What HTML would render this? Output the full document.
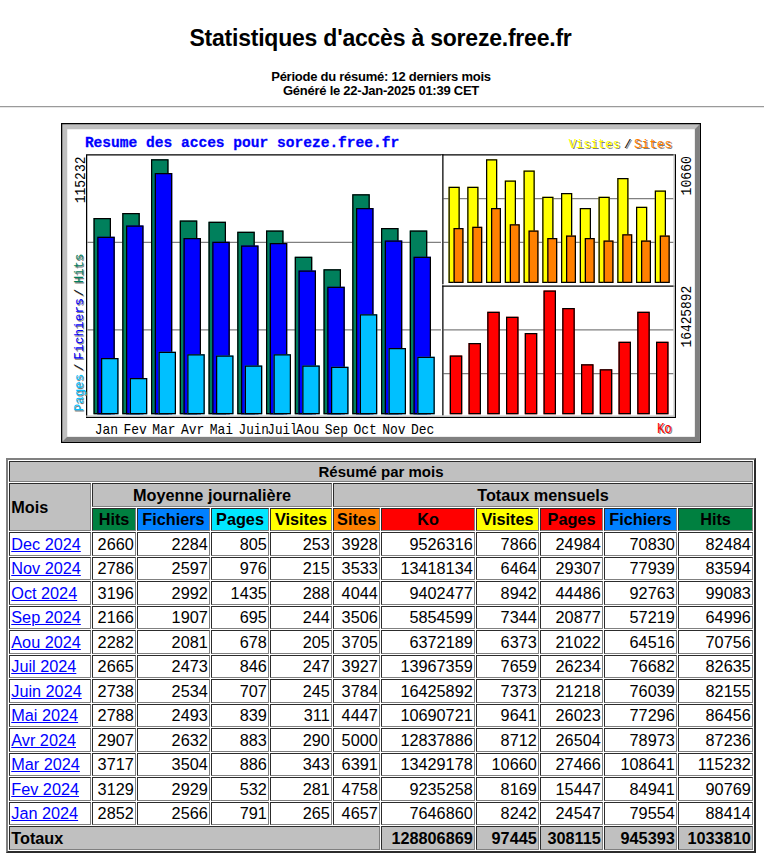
<!DOCTYPE html>
<html><head><meta charset="utf-8"><title>Statistiques</title>
<style>
html,body{margin:0;padding:0;background:#fff;width:764px;height:862px;overflow:hidden;position:relative}
body{font-family:"Liberation Sans",sans-serif;color:#000}
#title{position:absolute;left:0;top:0;width:764px;text-align:center;font-weight:bold;font-size:23px;letter-spacing:-0.22px;line-height:26px}
#sub{position:absolute;left:0;width:764px;text-align:center;font-weight:bold;font-size:13px;letter-spacing:-0.25px;line-height:14px}
.hr{position:absolute;left:0;width:764px;height:1px}
#tb{position:absolute;left:6px;top:458px;width:750px;height:395px;box-sizing:border-box;border:2px solid;border-color:#808080 #2c2c2c #2c2c2c #808080}
.c{position:absolute;box-sizing:border-box;border:1px solid;border-color:#2c2c2c #808080 #808080 #2c2c2c;white-space:nowrap;overflow:hidden}
</style></head><body>
<div id="title" style="top:25px;left:-1.5px">Statistiques d'accès à soreze.free.fr</div>
<div id="sub" style="top:70px;left:-1px">Période du résumé: 12 derniers mois<br>Généré le 22-Jan-2025 01:39 CET</div>
<div class="hr" style="top:106px;background:#9a9a9a"></div>
<div class="hr" style="top:107px;background:#e6e6e6"></div>
<svg width="640" height="320" viewBox="0 0 512 256" style="position:absolute;left:61px;top:123px"><rect x="0" y="0" width="512" height="256" fill="#fff"/><rect x="0" y="0" width="512" height="256" fill="#000"/><rect x="1" y="1" width="510" height="254" fill="#c0c0c0"/><polygon points="511,1 511,255 1,255 5,251 507,251 507,5" fill="#808080"/><rect x="5" y="5" width="502" height="246" fill="#fff"/><rect x="20.5" y="25.5" width="471" height="210" fill="none" stroke="#000" stroke-width="1"/><rect x="21" y="95" width="283" height="1" fill="#808080"/><rect x="21" y="165" width="283" height="1" fill="#808080"/><rect x="306" y="60" width="184" height="1" fill="#808080"/><rect x="306" y="95" width="184" height="1" fill="#808080"/><rect x="306" y="165" width="184" height="1" fill="#808080"/><rect x="306" y="200" width="184" height="1" fill="#808080"/><rect x="304" y="26" width="1" height="208" fill="#fff"/><rect x="305" y="25" width="1" height="209" fill="#000"/><rect x="305" y="129" width="186" height="1" fill="#fff"/><rect x="305" y="130" width="187" height="1" fill="#000"/><rect x="490" y="25" width="1" height="210" fill="#c0c0c0"/><rect x="20" y="234" width="471" height="1" fill="#c0c0c0"/><rect x="26" y="76" width="14" height="157" fill="#00805c"/><rect x="26.5" y="76.5" width="13" height="156" fill="none" stroke="#000" stroke-width="1"/><rect x="49" y="72" width="14" height="161" fill="#00805c"/><rect x="49.5" y="72.5" width="13" height="160" fill="none" stroke="#000" stroke-width="1"/><rect x="72" y="29" width="14" height="204" fill="#00805c"/><rect x="72.5" y="29.5" width="13" height="203" fill="none" stroke="#000" stroke-width="1"/><rect x="95" y="78" width="14" height="155" fill="#00805c"/><rect x="95.5" y="78.5" width="13" height="154" fill="none" stroke="#000" stroke-width="1"/><rect x="118" y="79" width="14" height="154" fill="#00805c"/><rect x="118.5" y="79.5" width="13" height="153" fill="none" stroke="#000" stroke-width="1"/><rect x="141" y="87" width="14" height="146" fill="#00805c"/><rect x="141.5" y="87.5" width="13" height="145" fill="none" stroke="#000" stroke-width="1"/><rect x="164" y="86" width="14" height="147" fill="#00805c"/><rect x="164.5" y="86.5" width="13" height="146" fill="none" stroke="#000" stroke-width="1"/><rect x="187" y="107" width="14" height="126" fill="#00805c"/><rect x="187.5" y="107.5" width="13" height="125" fill="none" stroke="#000" stroke-width="1"/><rect x="210" y="117" width="14" height="116" fill="#00805c"/><rect x="210.5" y="117.5" width="13" height="115" fill="none" stroke="#000" stroke-width="1"/><rect x="233" y="57" width="14" height="176" fill="#00805c"/><rect x="233.5" y="57.5" width="13" height="175" fill="none" stroke="#000" stroke-width="1"/><rect x="256" y="84" width="14" height="149" fill="#00805c"/><rect x="256.5" y="84.5" width="13" height="148" fill="none" stroke="#000" stroke-width="1"/><rect x="279" y="86" width="14" height="147" fill="#00805c"/><rect x="279.5" y="86.5" width="13" height="146" fill="none" stroke="#000" stroke-width="1"/><rect x="29" y="91" width="14" height="142" fill="#0000ff"/><rect x="29.5" y="91.5" width="13" height="141" fill="none" stroke="#000" stroke-width="1"/><rect x="52" y="82" width="14" height="151" fill="#0000ff"/><rect x="52.5" y="82.5" width="13" height="150" fill="none" stroke="#000" stroke-width="1"/><rect x="75" y="40" width="14" height="193" fill="#0000ff"/><rect x="75.5" y="40.5" width="13" height="192" fill="none" stroke="#000" stroke-width="1"/><rect x="98" y="92" width="14" height="141" fill="#0000ff"/><rect x="98.5" y="92.5" width="13" height="140" fill="none" stroke="#000" stroke-width="1"/><rect x="121" y="95" width="14" height="138" fill="#0000ff"/><rect x="121.5" y="95.5" width="13" height="137" fill="none" stroke="#000" stroke-width="1"/><rect x="144" y="98" width="14" height="135" fill="#0000ff"/><rect x="144.5" y="98.5" width="13" height="134" fill="none" stroke="#000" stroke-width="1"/><rect x="167" y="96" width="14" height="137" fill="#0000ff"/><rect x="167.5" y="96.5" width="13" height="136" fill="none" stroke="#000" stroke-width="1"/><rect x="190" y="118" width="14" height="115" fill="#0000ff"/><rect x="190.5" y="118.5" width="13" height="114" fill="none" stroke="#000" stroke-width="1"/><rect x="213" y="131" width="14" height="102" fill="#0000ff"/><rect x="213.5" y="131.5" width="13" height="101" fill="none" stroke="#000" stroke-width="1"/><rect x="236" y="68" width="14" height="165" fill="#0000ff"/><rect x="236.5" y="68.5" width="13" height="164" fill="none" stroke="#000" stroke-width="1"/><rect x="259" y="94" width="14" height="139" fill="#0000ff"/><rect x="259.5" y="94.5" width="13" height="138" fill="none" stroke="#000" stroke-width="1"/><rect x="282" y="107" width="14" height="126" fill="#0000ff"/><rect x="282.5" y="107.5" width="13" height="125" fill="none" stroke="#000" stroke-width="1"/><rect x="32" y="188" width="14" height="45" fill="#00c0ff"/><rect x="32.5" y="188.5" width="13" height="44" fill="none" stroke="#000" stroke-width="1"/><rect x="55" y="204" width="14" height="29" fill="#00c0ff"/><rect x="55.5" y="204.5" width="13" height="28" fill="none" stroke="#000" stroke-width="1"/><rect x="78" y="183" width="14" height="50" fill="#00c0ff"/><rect x="78.5" y="183.5" width="13" height="49" fill="none" stroke="#000" stroke-width="1"/><rect x="101" y="185" width="14" height="48" fill="#00c0ff"/><rect x="101.5" y="185.5" width="13" height="47" fill="none" stroke="#000" stroke-width="1"/><rect x="124" y="186" width="14" height="47" fill="#00c0ff"/><rect x="124.5" y="186.5" width="13" height="46" fill="none" stroke="#000" stroke-width="1"/><rect x="147" y="194" width="14" height="39" fill="#00c0ff"/><rect x="147.5" y="194.5" width="13" height="38" fill="none" stroke="#000" stroke-width="1"/><rect x="170" y="185" width="14" height="48" fill="#00c0ff"/><rect x="170.5" y="185.5" width="13" height="47" fill="none" stroke="#000" stroke-width="1"/><rect x="193" y="194" width="14" height="39" fill="#00c0ff"/><rect x="193.5" y="194.5" width="13" height="38" fill="none" stroke="#000" stroke-width="1"/><rect x="216" y="195" width="14" height="38" fill="#00c0ff"/><rect x="216.5" y="195.5" width="13" height="37" fill="none" stroke="#000" stroke-width="1"/><rect x="239" y="153" width="14" height="80" fill="#00c0ff"/><rect x="239.5" y="153.5" width="13" height="79" fill="none" stroke="#000" stroke-width="1"/><rect x="262" y="180" width="14" height="53" fill="#00c0ff"/><rect x="262.5" y="180.5" width="13" height="52" fill="none" stroke="#000" stroke-width="1"/><rect x="285" y="187" width="14" height="46" fill="#00c0ff"/><rect x="285.5" y="187.5" width="13" height="45" fill="none" stroke="#000" stroke-width="1"/><rect x="310" y="51" width="9" height="77" fill="#ffff00"/><rect x="310.5" y="51.5" width="8" height="76" fill="none" stroke="#000" stroke-width="1"/><rect x="325" y="51" width="9" height="77" fill="#ffff00"/><rect x="325.5" y="51.5" width="8" height="76" fill="none" stroke="#000" stroke-width="1"/><rect x="340" y="29" width="9" height="99" fill="#ffff00"/><rect x="340.5" y="29.5" width="8" height="98" fill="none" stroke="#000" stroke-width="1"/><rect x="355" y="46" width="9" height="82" fill="#ffff00"/><rect x="355.5" y="46.5" width="8" height="81" fill="none" stroke="#000" stroke-width="1"/><rect x="370" y="38" width="9" height="90" fill="#ffff00"/><rect x="370.5" y="38.5" width="8" height="89" fill="none" stroke="#000" stroke-width="1"/><rect x="385" y="59" width="9" height="69" fill="#ffff00"/><rect x="385.5" y="59.5" width="8" height="68" fill="none" stroke="#000" stroke-width="1"/><rect x="400" y="56" width="9" height="72" fill="#ffff00"/><rect x="400.5" y="56.5" width="8" height="71" fill="none" stroke="#000" stroke-width="1"/><rect x="415" y="68" width="9" height="60" fill="#ffff00"/><rect x="415.5" y="68.5" width="8" height="59" fill="none" stroke="#000" stroke-width="1"/><rect x="430" y="59" width="9" height="69" fill="#ffff00"/><rect x="430.5" y="59.5" width="8" height="68" fill="none" stroke="#000" stroke-width="1"/><rect x="445" y="44" width="9" height="84" fill="#ffff00"/><rect x="445.5" y="44.5" width="8" height="83" fill="none" stroke="#000" stroke-width="1"/><rect x="460" y="67" width="9" height="61" fill="#ffff00"/><rect x="460.5" y="67.5" width="8" height="60" fill="none" stroke="#000" stroke-width="1"/><rect x="475" y="54" width="9" height="74" fill="#ffff00"/><rect x="475.5" y="54.5" width="8" height="73" fill="none" stroke="#000" stroke-width="1"/><rect x="314" y="84" width="8" height="44" fill="#ff8000"/><rect x="314.5" y="84.5" width="7" height="43" fill="none" stroke="#000" stroke-width="1"/><rect x="329" y="83" width="8" height="45" fill="#ff8000"/><rect x="329.5" y="83.5" width="7" height="44" fill="none" stroke="#000" stroke-width="1"/><rect x="344" y="68" width="8" height="60" fill="#ff8000"/><rect x="344.5" y="68.5" width="7" height="59" fill="none" stroke="#000" stroke-width="1"/><rect x="359" y="81" width="8" height="47" fill="#ff8000"/><rect x="359.5" y="81.5" width="7" height="46" fill="none" stroke="#000" stroke-width="1"/><rect x="374" y="86" width="8" height="42" fill="#ff8000"/><rect x="374.5" y="86.5" width="7" height="41" fill="none" stroke="#000" stroke-width="1"/><rect x="389" y="92" width="8" height="36" fill="#ff8000"/><rect x="389.5" y="92.5" width="7" height="35" fill="none" stroke="#000" stroke-width="1"/><rect x="404" y="90" width="8" height="38" fill="#ff8000"/><rect x="404.5" y="90.5" width="7" height="37" fill="none" stroke="#000" stroke-width="1"/><rect x="419" y="92" width="8" height="36" fill="#ff8000"/><rect x="419.5" y="92.5" width="7" height="35" fill="none" stroke="#000" stroke-width="1"/><rect x="434" y="94" width="8" height="34" fill="#ff8000"/><rect x="434.5" y="94.5" width="7" height="33" fill="none" stroke="#000" stroke-width="1"/><rect x="449" y="89" width="8" height="39" fill="#ff8000"/><rect x="449.5" y="89.5" width="7" height="38" fill="none" stroke="#000" stroke-width="1"/><rect x="464" y="94" width="8" height="34" fill="#ff8000"/><rect x="464.5" y="94.5" width="7" height="33" fill="none" stroke="#000" stroke-width="1"/><rect x="479" y="90" width="8" height="38" fill="#ff8000"/><rect x="479.5" y="90.5" width="7" height="37" fill="none" stroke="#000" stroke-width="1"/><rect x="311" y="186" width="10" height="47" fill="#ff0000"/><rect x="311.5" y="186.5" width="9" height="46" fill="none" stroke="#000" stroke-width="1"/><rect x="326" y="176" width="10" height="57" fill="#ff0000"/><rect x="326.5" y="176.5" width="9" height="56" fill="none" stroke="#000" stroke-width="1"/><rect x="341" y="151" width="10" height="82" fill="#ff0000"/><rect x="341.5" y="151.5" width="9" height="81" fill="none" stroke="#000" stroke-width="1"/><rect x="356" y="155" width="10" height="78" fill="#ff0000"/><rect x="356.5" y="155.5" width="9" height="77" fill="none" stroke="#000" stroke-width="1"/><rect x="371" y="168" width="10" height="65" fill="#ff0000"/><rect x="371.5" y="168.5" width="9" height="64" fill="none" stroke="#000" stroke-width="1"/><rect x="386" y="134" width="10" height="99" fill="#ff0000"/><rect x="386.5" y="134.5" width="9" height="98" fill="none" stroke="#000" stroke-width="1"/><rect x="401" y="148" width="10" height="85" fill="#ff0000"/><rect x="401.5" y="148.5" width="9" height="84" fill="none" stroke="#000" stroke-width="1"/><rect x="416" y="193" width="10" height="40" fill="#ff0000"/><rect x="416.5" y="193.5" width="9" height="39" fill="none" stroke="#000" stroke-width="1"/><rect x="431" y="197" width="10" height="36" fill="#ff0000"/><rect x="431.5" y="197.5" width="9" height="35" fill="none" stroke="#000" stroke-width="1"/><rect x="446" y="175" width="10" height="58" fill="#ff0000"/><rect x="446.5" y="175.5" width="9" height="57" fill="none" stroke="#000" stroke-width="1"/><rect x="461" y="151" width="10" height="82" fill="#ff0000"/><rect x="461.5" y="151.5" width="9" height="81" fill="none" stroke="#000" stroke-width="1"/><rect x="476" y="175" width="10" height="58" fill="#ff0000"/><rect x="476.5" y="175.5" width="9" height="57" fill="none" stroke="#000" stroke-width="1"/><text stroke="#0000ff" stroke-width="0.22" x="19.1" y="19.3" style="font-family:'Liberation Mono',monospace;font-size:12px;font-weight:bold" fill="#0000ff" textLength="251.5" lengthAdjust="spacingAndGlyphs">Resume des acces pour soreze.free.fr</text><text x="27.04" y="248.8" style="font-family:'Liberation Mono',monospace;font-size:12px;font-weight:normal" fill="#000" textLength="18.69" lengthAdjust="spacingAndGlyphs">Jan</text><text x="50.04" y="248.8" style="font-family:'Liberation Mono',monospace;font-size:12px;font-weight:normal" fill="#000" textLength="18.69" lengthAdjust="spacingAndGlyphs">Fev</text><text x="73.03999999999999" y="248.8" style="font-family:'Liberation Mono',monospace;font-size:12px;font-weight:normal" fill="#000" textLength="18.69" lengthAdjust="spacingAndGlyphs">Mar</text><text x="96.03999999999999" y="248.8" style="font-family:'Liberation Mono',monospace;font-size:12px;font-weight:normal" fill="#000" textLength="18.69" lengthAdjust="spacingAndGlyphs">Avr</text><text x="119.03999999999999" y="248.8" style="font-family:'Liberation Mono',monospace;font-size:12px;font-weight:normal" fill="#000" textLength="18.69" lengthAdjust="spacingAndGlyphs">Mai</text><text x="142.04" y="248.8" style="font-family:'Liberation Mono',monospace;font-size:12px;font-weight:normal" fill="#000" textLength="24.32" lengthAdjust="spacingAndGlyphs">Juin</text><text x="165.04" y="248.8" style="font-family:'Liberation Mono',monospace;font-size:12px;font-weight:normal" fill="#000" textLength="24.32" lengthAdjust="spacingAndGlyphs">Juil</text><text x="188.04" y="248.8" style="font-family:'Liberation Mono',monospace;font-size:12px;font-weight:normal" fill="#000" textLength="18.69" lengthAdjust="spacingAndGlyphs">Aou</text><text x="211.04" y="248.8" style="font-family:'Liberation Mono',monospace;font-size:12px;font-weight:normal" fill="#000" textLength="18.69" lengthAdjust="spacingAndGlyphs">Sep</text><text x="234.04" y="248.8" style="font-family:'Liberation Mono',monospace;font-size:12px;font-weight:normal" fill="#000" textLength="18.69" lengthAdjust="spacingAndGlyphs">Oct</text><text x="257.04" y="248.8" style="font-family:'Liberation Mono',monospace;font-size:12px;font-weight:normal" fill="#000" textLength="18.69" lengthAdjust="spacingAndGlyphs">Nov</text><text x="280.04" y="248.8" style="font-family:'Liberation Mono',monospace;font-size:12px;font-weight:normal" fill="#000" textLength="18.69" lengthAdjust="spacingAndGlyphs">Dec</text><text transform="translate(19.2,64.2) rotate(-90)" style="font-family:'Liberation Mono',monospace;font-size:12.3px;font-weight:normal" fill="#000" textLength="37.4" lengthAdjust="spacingAndGlyphs">115232</text><text transform="translate(503.8,58) rotate(-90)" style="font-family:'Liberation Mono',monospace;font-size:12.3px;font-weight:normal" fill="#000" textLength="31.6" lengthAdjust="spacingAndGlyphs">10660</text><text transform="translate(503.8,179.6) rotate(-90)" style="font-family:'Liberation Mono',monospace;font-size:12.3px;font-weight:normal" fill="#000" textLength="49.4" lengthAdjust="spacingAndGlyphs">16425892</text><text x="477.7" y="249" style="font-family:'Liberation Mono',monospace;font-size:12px;font-weight:normal" fill="#808080" textLength="12" lengthAdjust="spacingAndGlyphs">Ko</text><text x="476.7" y="248" style="font-family:'Liberation Mono',monospace;font-size:12px;font-weight:normal" fill="#ff0000" textLength="12" lengthAdjust="spacingAndGlyphs">Ko</text><text x="407.2" y="21" style="font-family:'Liberation Mono',monospace;font-size:10.8px;font-weight:normal" fill="#808080" textLength="41" lengthAdjust="spacingAndGlyphs">Visites</text><text x="406.2" y="20" style="font-family:'Liberation Mono',monospace;font-size:10.8px;font-weight:normal" fill="#ffff00" textLength="41" lengthAdjust="spacingAndGlyphs">Visites</text><text x="451.4" y="21" style="font-family:'Liberation Mono',monospace;font-size:10.8px;font-weight:normal" fill="#808080" textLength="6" lengthAdjust="spacingAndGlyphs">/</text><text x="450.4" y="20" style="font-family:'Liberation Mono',monospace;font-size:10.8px;font-weight:normal" fill="#000" textLength="6" lengthAdjust="spacingAndGlyphs">/</text><text x="459.4" y="21" style="font-family:'Liberation Mono',monospace;font-size:10.8px;font-weight:normal" fill="#808080" textLength="30.5" lengthAdjust="spacingAndGlyphs">Sites</text><text x="458.4" y="20" style="font-family:'Liberation Mono',monospace;font-size:10.8px;font-weight:normal" fill="#ff8000" textLength="30.5" lengthAdjust="spacingAndGlyphs">Sites</text><text transform="translate(18.6,231.6) rotate(-90)" style="font-family:'Liberation Mono',monospace;font-size:10.5px;font-weight:normal" fill="#808080" textLength="30.1" lengthAdjust="spacingAndGlyphs">Pages</text><text transform="translate(17.6,230.6) rotate(-90)" style="font-family:'Liberation Mono',monospace;font-size:10.5px;font-weight:normal" fill="#00c0ff" textLength="30.1" lengthAdjust="spacingAndGlyphs">Pages</text><text transform="translate(18.6,199.3) rotate(-90)" style="font-family:'Liberation Mono',monospace;font-size:10.5px;font-weight:normal" fill="#808080" textLength="6" lengthAdjust="spacingAndGlyphs">/</text><text transform="translate(17.6,198.3) rotate(-90)" style="font-family:'Liberation Mono',monospace;font-size:10.5px;font-weight:normal" fill="#000" textLength="6" lengthAdjust="spacingAndGlyphs">/</text><text transform="translate(18.6,190.4) rotate(-90)" style="font-family:'Liberation Mono',monospace;font-size:10.5px;font-weight:normal" fill="#808080" textLength="49.4" lengthAdjust="spacingAndGlyphs">Fichiers</text><text transform="translate(17.6,189.4) rotate(-90)" style="font-family:'Liberation Mono',monospace;font-size:10.5px;font-weight:normal" fill="#0000ff" textLength="49.4" lengthAdjust="spacingAndGlyphs">Fichiers</text><text transform="translate(18.6,139.6) rotate(-90)" style="font-family:'Liberation Mono',monospace;font-size:10.5px;font-weight:normal" fill="#808080" textLength="6" lengthAdjust="spacingAndGlyphs">/</text><text transform="translate(17.6,138.6) rotate(-90)" style="font-family:'Liberation Mono',monospace;font-size:10.5px;font-weight:normal" fill="#000" textLength="6" lengthAdjust="spacingAndGlyphs">/</text><text transform="translate(18.6,129.2) rotate(-90)" style="font-family:'Liberation Mono',monospace;font-size:10.5px;font-weight:normal" fill="#808080" textLength="23.8" lengthAdjust="spacingAndGlyphs">Hits</text><text transform="translate(17.6,128.2) rotate(-90)" style="font-family:'Liberation Mono',monospace;font-size:10.5px;font-weight:normal" fill="#00805c" textLength="23.8" lengthAdjust="spacingAndGlyphs">Hits</text></svg>
<div id="tb"></div><div class="c" style="left:9px;top:461px;width:744px;height:21px;line-height:19px;background:#c0c0c0;text-align:center;font-size:15px;font-weight:bold;padding:0 1.25px;">Résumé par mois</div><div class="c" style="left:9px;top:483px;width:82px;height:48px;line-height:46px;background:#c0c0c0;text-align:left;font-size:16.25px;font-weight:bold;padding:0 1.25px;">Mois</div><div class="c" style="left:92px;top:483px;width:240px;height:24px;line-height:22px;background:#c0c0c0;text-align:center;font-size:16.25px;font-weight:bold;padding:0 1.25px;">Moyenne journalière</div><div class="c" style="left:333px;top:483px;width:420px;height:24px;line-height:22px;background:#c0c0c0;text-align:center;font-size:16.25px;font-weight:bold;padding:0 1.25px;">Totaux mensuels</div><div class="c" style="left:92px;top:508px;width:44px;height:23px;line-height:21px;background:#008040;text-align:center;font-size:16.25px;font-weight:bold;padding:0 1.25px;">Hits</div><div class="c" style="left:137px;top:508px;width:73px;height:23px;line-height:21px;background:#0080ff;text-align:center;font-size:16.25px;font-weight:bold;padding:0 1.25px;">Fichiers</div><div class="c" style="left:211px;top:508px;width:58px;height:23px;line-height:21px;background:#00e8ff;text-align:center;font-size:16.25px;font-weight:bold;padding:0 1.25px;">Pages</div><div class="c" style="left:270px;top:508px;width:62px;height:23px;line-height:21px;background:#ffff00;text-align:center;font-size:16.25px;font-weight:bold;padding:0 1.25px;">Visites</div><div class="c" style="left:333px;top:508px;width:47px;height:23px;line-height:21px;background:#ff8000;text-align:center;font-size:16.25px;font-weight:bold;padding:0 1.25px;">Sites</div><div class="c" style="left:381px;top:508px;width:94px;height:23px;line-height:21px;background:#ff0000;text-align:center;font-size:16.25px;font-weight:bold;padding:0 1.25px;">Ko</div><div class="c" style="left:476px;top:508px;width:63px;height:23px;line-height:21px;background:#ffff00;text-align:center;font-size:16.25px;font-weight:bold;padding:0 1.25px;">Visites</div><div class="c" style="left:540px;top:508px;width:63px;height:23px;line-height:21px;background:#ff0000;text-align:center;font-size:16.25px;font-weight:bold;padding:0 1.25px;">Pages</div><div class="c" style="left:604px;top:508px;width:73px;height:23px;line-height:21px;background:#0080ff;text-align:center;font-size:16.25px;font-weight:bold;padding:0 1.25px;">Fichiers</div><div class="c" style="left:678px;top:508px;width:75px;height:23px;line-height:21px;background:#008040;text-align:center;font-size:16.25px;font-weight:bold;padding:0 1.25px;">Hits</div><div class="c" style="left:9px;top:532px;width:82px;height:24px;line-height:22px;background:#fff;text-align:left;font-size:16.25px;font-weight:normal;padding:0 1.25px;"><a href="#" style="color:#0000ff">Dec 2024</a></div><div class="c" style="left:92px;top:532px;width:44px;height:24px;line-height:22px;background:#fff;text-align:right;font-size:16.25px;font-weight:normal;padding:0 1.25px;">2660</div><div class="c" style="left:137px;top:532px;width:73px;height:24px;line-height:22px;background:#fff;text-align:right;font-size:16.25px;font-weight:normal;padding:0 1.25px;">2284</div><div class="c" style="left:211px;top:532px;width:58px;height:24px;line-height:22px;background:#fff;text-align:right;font-size:16.25px;font-weight:normal;padding:0 1.25px;">805</div><div class="c" style="left:270px;top:532px;width:62px;height:24px;line-height:22px;background:#fff;text-align:right;font-size:16.25px;font-weight:normal;padding:0 1.25px;">253</div><div class="c" style="left:333px;top:532px;width:47px;height:24px;line-height:22px;background:#fff;text-align:right;font-size:16.25px;font-weight:normal;padding:0 1.25px;">3928</div><div class="c" style="left:381px;top:532px;width:94px;height:24px;line-height:22px;background:#fff;text-align:right;font-size:16.25px;font-weight:normal;padding:0 1.25px;">9526316</div><div class="c" style="left:476px;top:532px;width:63px;height:24px;line-height:22px;background:#fff;text-align:right;font-size:16.25px;font-weight:normal;padding:0 1.25px;">7866</div><div class="c" style="left:540px;top:532px;width:63px;height:24px;line-height:22px;background:#fff;text-align:right;font-size:16.25px;font-weight:normal;padding:0 1.25px;">24984</div><div class="c" style="left:604px;top:532px;width:73px;height:24px;line-height:22px;background:#fff;text-align:right;font-size:16.25px;font-weight:normal;padding:0 1.25px;">70830</div><div class="c" style="left:678px;top:532px;width:75px;height:24px;line-height:22px;background:#fff;text-align:right;font-size:16.25px;font-weight:normal;padding:0 1.25px;">82484</div><div class="c" style="left:9px;top:557px;width:82px;height:23px;line-height:21px;background:#fff;text-align:left;font-size:16.25px;font-weight:normal;padding:0 1.25px;"><a href="#" style="color:#0000ff">Nov 2024</a></div><div class="c" style="left:92px;top:557px;width:44px;height:23px;line-height:21px;background:#fff;text-align:right;font-size:16.25px;font-weight:normal;padding:0 1.25px;">2786</div><div class="c" style="left:137px;top:557px;width:73px;height:23px;line-height:21px;background:#fff;text-align:right;font-size:16.25px;font-weight:normal;padding:0 1.25px;">2597</div><div class="c" style="left:211px;top:557px;width:58px;height:23px;line-height:21px;background:#fff;text-align:right;font-size:16.25px;font-weight:normal;padding:0 1.25px;">976</div><div class="c" style="left:270px;top:557px;width:62px;height:23px;line-height:21px;background:#fff;text-align:right;font-size:16.25px;font-weight:normal;padding:0 1.25px;">215</div><div class="c" style="left:333px;top:557px;width:47px;height:23px;line-height:21px;background:#fff;text-align:right;font-size:16.25px;font-weight:normal;padding:0 1.25px;">3533</div><div class="c" style="left:381px;top:557px;width:94px;height:23px;line-height:21px;background:#fff;text-align:right;font-size:16.25px;font-weight:normal;padding:0 1.25px;">13418134</div><div class="c" style="left:476px;top:557px;width:63px;height:23px;line-height:21px;background:#fff;text-align:right;font-size:16.25px;font-weight:normal;padding:0 1.25px;">6464</div><div class="c" style="left:540px;top:557px;width:63px;height:23px;line-height:21px;background:#fff;text-align:right;font-size:16.25px;font-weight:normal;padding:0 1.25px;">29307</div><div class="c" style="left:604px;top:557px;width:73px;height:23px;line-height:21px;background:#fff;text-align:right;font-size:16.25px;font-weight:normal;padding:0 1.25px;">77939</div><div class="c" style="left:678px;top:557px;width:75px;height:23px;line-height:21px;background:#fff;text-align:right;font-size:16.25px;font-weight:normal;padding:0 1.25px;">83594</div><div class="c" style="left:9px;top:581px;width:82px;height:24px;line-height:22px;background:#fff;text-align:left;font-size:16.25px;font-weight:normal;padding:0 1.25px;"><a href="#" style="color:#0000ff">Oct 2024</a></div><div class="c" style="left:92px;top:581px;width:44px;height:24px;line-height:22px;background:#fff;text-align:right;font-size:16.25px;font-weight:normal;padding:0 1.25px;">3196</div><div class="c" style="left:137px;top:581px;width:73px;height:24px;line-height:22px;background:#fff;text-align:right;font-size:16.25px;font-weight:normal;padding:0 1.25px;">2992</div><div class="c" style="left:211px;top:581px;width:58px;height:24px;line-height:22px;background:#fff;text-align:right;font-size:16.25px;font-weight:normal;padding:0 1.25px;">1435</div><div class="c" style="left:270px;top:581px;width:62px;height:24px;line-height:22px;background:#fff;text-align:right;font-size:16.25px;font-weight:normal;padding:0 1.25px;">288</div><div class="c" style="left:333px;top:581px;width:47px;height:24px;line-height:22px;background:#fff;text-align:right;font-size:16.25px;font-weight:normal;padding:0 1.25px;">4044</div><div class="c" style="left:381px;top:581px;width:94px;height:24px;line-height:22px;background:#fff;text-align:right;font-size:16.25px;font-weight:normal;padding:0 1.25px;">9402477</div><div class="c" style="left:476px;top:581px;width:63px;height:24px;line-height:22px;background:#fff;text-align:right;font-size:16.25px;font-weight:normal;padding:0 1.25px;">8942</div><div class="c" style="left:540px;top:581px;width:63px;height:24px;line-height:22px;background:#fff;text-align:right;font-size:16.25px;font-weight:normal;padding:0 1.25px;">44486</div><div class="c" style="left:604px;top:581px;width:73px;height:24px;line-height:22px;background:#fff;text-align:right;font-size:16.25px;font-weight:normal;padding:0 1.25px;">92763</div><div class="c" style="left:678px;top:581px;width:75px;height:24px;line-height:22px;background:#fff;text-align:right;font-size:16.25px;font-weight:normal;padding:0 1.25px;">99083</div><div class="c" style="left:9px;top:606px;width:82px;height:23px;line-height:21px;background:#fff;text-align:left;font-size:16.25px;font-weight:normal;padding:0 1.25px;"><a href="#" style="color:#0000ff">Sep 2024</a></div><div class="c" style="left:92px;top:606px;width:44px;height:23px;line-height:21px;background:#fff;text-align:right;font-size:16.25px;font-weight:normal;padding:0 1.25px;">2166</div><div class="c" style="left:137px;top:606px;width:73px;height:23px;line-height:21px;background:#fff;text-align:right;font-size:16.25px;font-weight:normal;padding:0 1.25px;">1907</div><div class="c" style="left:211px;top:606px;width:58px;height:23px;line-height:21px;background:#fff;text-align:right;font-size:16.25px;font-weight:normal;padding:0 1.25px;">695</div><div class="c" style="left:270px;top:606px;width:62px;height:23px;line-height:21px;background:#fff;text-align:right;font-size:16.25px;font-weight:normal;padding:0 1.25px;">244</div><div class="c" style="left:333px;top:606px;width:47px;height:23px;line-height:21px;background:#fff;text-align:right;font-size:16.25px;font-weight:normal;padding:0 1.25px;">3506</div><div class="c" style="left:381px;top:606px;width:94px;height:23px;line-height:21px;background:#fff;text-align:right;font-size:16.25px;font-weight:normal;padding:0 1.25px;">5854599</div><div class="c" style="left:476px;top:606px;width:63px;height:23px;line-height:21px;background:#fff;text-align:right;font-size:16.25px;font-weight:normal;padding:0 1.25px;">7344</div><div class="c" style="left:540px;top:606px;width:63px;height:23px;line-height:21px;background:#fff;text-align:right;font-size:16.25px;font-weight:normal;padding:0 1.25px;">20877</div><div class="c" style="left:604px;top:606px;width:73px;height:23px;line-height:21px;background:#fff;text-align:right;font-size:16.25px;font-weight:normal;padding:0 1.25px;">57219</div><div class="c" style="left:678px;top:606px;width:75px;height:23px;line-height:21px;background:#fff;text-align:right;font-size:16.25px;font-weight:normal;padding:0 1.25px;">64996</div><div class="c" style="left:9px;top:630px;width:82px;height:24px;line-height:22px;background:#fff;text-align:left;font-size:16.25px;font-weight:normal;padding:0 1.25px;"><a href="#" style="color:#0000ff">Aou 2024</a></div><div class="c" style="left:92px;top:630px;width:44px;height:24px;line-height:22px;background:#fff;text-align:right;font-size:16.25px;font-weight:normal;padding:0 1.25px;">2282</div><div class="c" style="left:137px;top:630px;width:73px;height:24px;line-height:22px;background:#fff;text-align:right;font-size:16.25px;font-weight:normal;padding:0 1.25px;">2081</div><div class="c" style="left:211px;top:630px;width:58px;height:24px;line-height:22px;background:#fff;text-align:right;font-size:16.25px;font-weight:normal;padding:0 1.25px;">678</div><div class="c" style="left:270px;top:630px;width:62px;height:24px;line-height:22px;background:#fff;text-align:right;font-size:16.25px;font-weight:normal;padding:0 1.25px;">205</div><div class="c" style="left:333px;top:630px;width:47px;height:24px;line-height:22px;background:#fff;text-align:right;font-size:16.25px;font-weight:normal;padding:0 1.25px;">3705</div><div class="c" style="left:381px;top:630px;width:94px;height:24px;line-height:22px;background:#fff;text-align:right;font-size:16.25px;font-weight:normal;padding:0 1.25px;">6372189</div><div class="c" style="left:476px;top:630px;width:63px;height:24px;line-height:22px;background:#fff;text-align:right;font-size:16.25px;font-weight:normal;padding:0 1.25px;">6373</div><div class="c" style="left:540px;top:630px;width:63px;height:24px;line-height:22px;background:#fff;text-align:right;font-size:16.25px;font-weight:normal;padding:0 1.25px;">21022</div><div class="c" style="left:604px;top:630px;width:73px;height:24px;line-height:22px;background:#fff;text-align:right;font-size:16.25px;font-weight:normal;padding:0 1.25px;">64516</div><div class="c" style="left:678px;top:630px;width:75px;height:24px;line-height:22px;background:#fff;text-align:right;font-size:16.25px;font-weight:normal;padding:0 1.25px;">70756</div><div class="c" style="left:9px;top:655px;width:82px;height:23px;line-height:21px;background:#fff;text-align:left;font-size:16.25px;font-weight:normal;padding:0 1.25px;"><a href="#" style="color:#0000ff">Juil 2024</a></div><div class="c" style="left:92px;top:655px;width:44px;height:23px;line-height:21px;background:#fff;text-align:right;font-size:16.25px;font-weight:normal;padding:0 1.25px;">2665</div><div class="c" style="left:137px;top:655px;width:73px;height:23px;line-height:21px;background:#fff;text-align:right;font-size:16.25px;font-weight:normal;padding:0 1.25px;">2473</div><div class="c" style="left:211px;top:655px;width:58px;height:23px;line-height:21px;background:#fff;text-align:right;font-size:16.25px;font-weight:normal;padding:0 1.25px;">846</div><div class="c" style="left:270px;top:655px;width:62px;height:23px;line-height:21px;background:#fff;text-align:right;font-size:16.25px;font-weight:normal;padding:0 1.25px;">247</div><div class="c" style="left:333px;top:655px;width:47px;height:23px;line-height:21px;background:#fff;text-align:right;font-size:16.25px;font-weight:normal;padding:0 1.25px;">3927</div><div class="c" style="left:381px;top:655px;width:94px;height:23px;line-height:21px;background:#fff;text-align:right;font-size:16.25px;font-weight:normal;padding:0 1.25px;">13967359</div><div class="c" style="left:476px;top:655px;width:63px;height:23px;line-height:21px;background:#fff;text-align:right;font-size:16.25px;font-weight:normal;padding:0 1.25px;">7659</div><div class="c" style="left:540px;top:655px;width:63px;height:23px;line-height:21px;background:#fff;text-align:right;font-size:16.25px;font-weight:normal;padding:0 1.25px;">26234</div><div class="c" style="left:604px;top:655px;width:73px;height:23px;line-height:21px;background:#fff;text-align:right;font-size:16.25px;font-weight:normal;padding:0 1.25px;">76682</div><div class="c" style="left:678px;top:655px;width:75px;height:23px;line-height:21px;background:#fff;text-align:right;font-size:16.25px;font-weight:normal;padding:0 1.25px;">82635</div><div class="c" style="left:9px;top:679px;width:82px;height:24px;line-height:22px;background:#fff;text-align:left;font-size:16.25px;font-weight:normal;padding:0 1.25px;"><a href="#" style="color:#0000ff">Juin 2024</a></div><div class="c" style="left:92px;top:679px;width:44px;height:24px;line-height:22px;background:#fff;text-align:right;font-size:16.25px;font-weight:normal;padding:0 1.25px;">2738</div><div class="c" style="left:137px;top:679px;width:73px;height:24px;line-height:22px;background:#fff;text-align:right;font-size:16.25px;font-weight:normal;padding:0 1.25px;">2534</div><div class="c" style="left:211px;top:679px;width:58px;height:24px;line-height:22px;background:#fff;text-align:right;font-size:16.25px;font-weight:normal;padding:0 1.25px;">707</div><div class="c" style="left:270px;top:679px;width:62px;height:24px;line-height:22px;background:#fff;text-align:right;font-size:16.25px;font-weight:normal;padding:0 1.25px;">245</div><div class="c" style="left:333px;top:679px;width:47px;height:24px;line-height:22px;background:#fff;text-align:right;font-size:16.25px;font-weight:normal;padding:0 1.25px;">3784</div><div class="c" style="left:381px;top:679px;width:94px;height:24px;line-height:22px;background:#fff;text-align:right;font-size:16.25px;font-weight:normal;padding:0 1.25px;">16425892</div><div class="c" style="left:476px;top:679px;width:63px;height:24px;line-height:22px;background:#fff;text-align:right;font-size:16.25px;font-weight:normal;padding:0 1.25px;">7373</div><div class="c" style="left:540px;top:679px;width:63px;height:24px;line-height:22px;background:#fff;text-align:right;font-size:16.25px;font-weight:normal;padding:0 1.25px;">21218</div><div class="c" style="left:604px;top:679px;width:73px;height:24px;line-height:22px;background:#fff;text-align:right;font-size:16.25px;font-weight:normal;padding:0 1.25px;">76039</div><div class="c" style="left:678px;top:679px;width:75px;height:24px;line-height:22px;background:#fff;text-align:right;font-size:16.25px;font-weight:normal;padding:0 1.25px;">82155</div><div class="c" style="left:9px;top:704px;width:82px;height:23px;line-height:21px;background:#fff;text-align:left;font-size:16.25px;font-weight:normal;padding:0 1.25px;"><a href="#" style="color:#0000ff">Mai 2024</a></div><div class="c" style="left:92px;top:704px;width:44px;height:23px;line-height:21px;background:#fff;text-align:right;font-size:16.25px;font-weight:normal;padding:0 1.25px;">2788</div><div class="c" style="left:137px;top:704px;width:73px;height:23px;line-height:21px;background:#fff;text-align:right;font-size:16.25px;font-weight:normal;padding:0 1.25px;">2493</div><div class="c" style="left:211px;top:704px;width:58px;height:23px;line-height:21px;background:#fff;text-align:right;font-size:16.25px;font-weight:normal;padding:0 1.25px;">839</div><div class="c" style="left:270px;top:704px;width:62px;height:23px;line-height:21px;background:#fff;text-align:right;font-size:16.25px;font-weight:normal;padding:0 1.25px;">311</div><div class="c" style="left:333px;top:704px;width:47px;height:23px;line-height:21px;background:#fff;text-align:right;font-size:16.25px;font-weight:normal;padding:0 1.25px;">4447</div><div class="c" style="left:381px;top:704px;width:94px;height:23px;line-height:21px;background:#fff;text-align:right;font-size:16.25px;font-weight:normal;padding:0 1.25px;">10690721</div><div class="c" style="left:476px;top:704px;width:63px;height:23px;line-height:21px;background:#fff;text-align:right;font-size:16.25px;font-weight:normal;padding:0 1.25px;">9641</div><div class="c" style="left:540px;top:704px;width:63px;height:23px;line-height:21px;background:#fff;text-align:right;font-size:16.25px;font-weight:normal;padding:0 1.25px;">26023</div><div class="c" style="left:604px;top:704px;width:73px;height:23px;line-height:21px;background:#fff;text-align:right;font-size:16.25px;font-weight:normal;padding:0 1.25px;">77296</div><div class="c" style="left:678px;top:704px;width:75px;height:23px;line-height:21px;background:#fff;text-align:right;font-size:16.25px;font-weight:normal;padding:0 1.25px;">86456</div><div class="c" style="left:9px;top:728px;width:82px;height:24px;line-height:22px;background:#fff;text-align:left;font-size:16.25px;font-weight:normal;padding:0 1.25px;"><a href="#" style="color:#0000ff">Avr 2024</a></div><div class="c" style="left:92px;top:728px;width:44px;height:24px;line-height:22px;background:#fff;text-align:right;font-size:16.25px;font-weight:normal;padding:0 1.25px;">2907</div><div class="c" style="left:137px;top:728px;width:73px;height:24px;line-height:22px;background:#fff;text-align:right;font-size:16.25px;font-weight:normal;padding:0 1.25px;">2632</div><div class="c" style="left:211px;top:728px;width:58px;height:24px;line-height:22px;background:#fff;text-align:right;font-size:16.25px;font-weight:normal;padding:0 1.25px;">883</div><div class="c" style="left:270px;top:728px;width:62px;height:24px;line-height:22px;background:#fff;text-align:right;font-size:16.25px;font-weight:normal;padding:0 1.25px;">290</div><div class="c" style="left:333px;top:728px;width:47px;height:24px;line-height:22px;background:#fff;text-align:right;font-size:16.25px;font-weight:normal;padding:0 1.25px;">5000</div><div class="c" style="left:381px;top:728px;width:94px;height:24px;line-height:22px;background:#fff;text-align:right;font-size:16.25px;font-weight:normal;padding:0 1.25px;">12837886</div><div class="c" style="left:476px;top:728px;width:63px;height:24px;line-height:22px;background:#fff;text-align:right;font-size:16.25px;font-weight:normal;padding:0 1.25px;">8712</div><div class="c" style="left:540px;top:728px;width:63px;height:24px;line-height:22px;background:#fff;text-align:right;font-size:16.25px;font-weight:normal;padding:0 1.25px;">26504</div><div class="c" style="left:604px;top:728px;width:73px;height:24px;line-height:22px;background:#fff;text-align:right;font-size:16.25px;font-weight:normal;padding:0 1.25px;">78973</div><div class="c" style="left:678px;top:728px;width:75px;height:24px;line-height:22px;background:#fff;text-align:right;font-size:16.25px;font-weight:normal;padding:0 1.25px;">87236</div><div class="c" style="left:9px;top:753px;width:82px;height:23px;line-height:21px;background:#fff;text-align:left;font-size:16.25px;font-weight:normal;padding:0 1.25px;"><a href="#" style="color:#0000ff">Mar 2024</a></div><div class="c" style="left:92px;top:753px;width:44px;height:23px;line-height:21px;background:#fff;text-align:right;font-size:16.25px;font-weight:normal;padding:0 1.25px;">3717</div><div class="c" style="left:137px;top:753px;width:73px;height:23px;line-height:21px;background:#fff;text-align:right;font-size:16.25px;font-weight:normal;padding:0 1.25px;">3504</div><div class="c" style="left:211px;top:753px;width:58px;height:23px;line-height:21px;background:#fff;text-align:right;font-size:16.25px;font-weight:normal;padding:0 1.25px;">886</div><div class="c" style="left:270px;top:753px;width:62px;height:23px;line-height:21px;background:#fff;text-align:right;font-size:16.25px;font-weight:normal;padding:0 1.25px;">343</div><div class="c" style="left:333px;top:753px;width:47px;height:23px;line-height:21px;background:#fff;text-align:right;font-size:16.25px;font-weight:normal;padding:0 1.25px;">6391</div><div class="c" style="left:381px;top:753px;width:94px;height:23px;line-height:21px;background:#fff;text-align:right;font-size:16.25px;font-weight:normal;padding:0 1.25px;">13429178</div><div class="c" style="left:476px;top:753px;width:63px;height:23px;line-height:21px;background:#fff;text-align:right;font-size:16.25px;font-weight:normal;padding:0 1.25px;">10660</div><div class="c" style="left:540px;top:753px;width:63px;height:23px;line-height:21px;background:#fff;text-align:right;font-size:16.25px;font-weight:normal;padding:0 1.25px;">27466</div><div class="c" style="left:604px;top:753px;width:73px;height:23px;line-height:21px;background:#fff;text-align:right;font-size:16.25px;font-weight:normal;padding:0 1.25px;">108641</div><div class="c" style="left:678px;top:753px;width:75px;height:23px;line-height:21px;background:#fff;text-align:right;font-size:16.25px;font-weight:normal;padding:0 1.25px;">115232</div><div class="c" style="left:9px;top:777px;width:82px;height:24px;line-height:22px;background:#fff;text-align:left;font-size:16.25px;font-weight:normal;padding:0 1.25px;"><a href="#" style="color:#0000ff">Fev 2024</a></div><div class="c" style="left:92px;top:777px;width:44px;height:24px;line-height:22px;background:#fff;text-align:right;font-size:16.25px;font-weight:normal;padding:0 1.25px;">3129</div><div class="c" style="left:137px;top:777px;width:73px;height:24px;line-height:22px;background:#fff;text-align:right;font-size:16.25px;font-weight:normal;padding:0 1.25px;">2929</div><div class="c" style="left:211px;top:777px;width:58px;height:24px;line-height:22px;background:#fff;text-align:right;font-size:16.25px;font-weight:normal;padding:0 1.25px;">532</div><div class="c" style="left:270px;top:777px;width:62px;height:24px;line-height:22px;background:#fff;text-align:right;font-size:16.25px;font-weight:normal;padding:0 1.25px;">281</div><div class="c" style="left:333px;top:777px;width:47px;height:24px;line-height:22px;background:#fff;text-align:right;font-size:16.25px;font-weight:normal;padding:0 1.25px;">4758</div><div class="c" style="left:381px;top:777px;width:94px;height:24px;line-height:22px;background:#fff;text-align:right;font-size:16.25px;font-weight:normal;padding:0 1.25px;">9235258</div><div class="c" style="left:476px;top:777px;width:63px;height:24px;line-height:22px;background:#fff;text-align:right;font-size:16.25px;font-weight:normal;padding:0 1.25px;">8169</div><div class="c" style="left:540px;top:777px;width:63px;height:24px;line-height:22px;background:#fff;text-align:right;font-size:16.25px;font-weight:normal;padding:0 1.25px;">15447</div><div class="c" style="left:604px;top:777px;width:73px;height:24px;line-height:22px;background:#fff;text-align:right;font-size:16.25px;font-weight:normal;padding:0 1.25px;">84941</div><div class="c" style="left:678px;top:777px;width:75px;height:24px;line-height:22px;background:#fff;text-align:right;font-size:16.25px;font-weight:normal;padding:0 1.25px;">90769</div><div class="c" style="left:9px;top:802px;width:82px;height:23px;line-height:21px;background:#fff;text-align:left;font-size:16.25px;font-weight:normal;padding:0 1.25px;"><a href="#" style="color:#0000ff">Jan 2024</a></div><div class="c" style="left:92px;top:802px;width:44px;height:23px;line-height:21px;background:#fff;text-align:right;font-size:16.25px;font-weight:normal;padding:0 1.25px;">2852</div><div class="c" style="left:137px;top:802px;width:73px;height:23px;line-height:21px;background:#fff;text-align:right;font-size:16.25px;font-weight:normal;padding:0 1.25px;">2566</div><div class="c" style="left:211px;top:802px;width:58px;height:23px;line-height:21px;background:#fff;text-align:right;font-size:16.25px;font-weight:normal;padding:0 1.25px;">791</div><div class="c" style="left:270px;top:802px;width:62px;height:23px;line-height:21px;background:#fff;text-align:right;font-size:16.25px;font-weight:normal;padding:0 1.25px;">265</div><div class="c" style="left:333px;top:802px;width:47px;height:23px;line-height:21px;background:#fff;text-align:right;font-size:16.25px;font-weight:normal;padding:0 1.25px;">4657</div><div class="c" style="left:381px;top:802px;width:94px;height:23px;line-height:21px;background:#fff;text-align:right;font-size:16.25px;font-weight:normal;padding:0 1.25px;">7646860</div><div class="c" style="left:476px;top:802px;width:63px;height:23px;line-height:21px;background:#fff;text-align:right;font-size:16.25px;font-weight:normal;padding:0 1.25px;">8242</div><div class="c" style="left:540px;top:802px;width:63px;height:23px;line-height:21px;background:#fff;text-align:right;font-size:16.25px;font-weight:normal;padding:0 1.25px;">24547</div><div class="c" style="left:604px;top:802px;width:73px;height:23px;line-height:21px;background:#fff;text-align:right;font-size:16.25px;font-weight:normal;padding:0 1.25px;">79554</div><div class="c" style="left:678px;top:802px;width:75px;height:23px;line-height:21px;background:#fff;text-align:right;font-size:16.25px;font-weight:normal;padding:0 1.25px;">88414</div><div class="c" style="left:9px;top:826px;width:371px;height:24px;line-height:22px;background:#c0c0c0;text-align:left;font-size:16.25px;font-weight:bold;padding:0 1.25px;">Totaux</div><div class="c" style="left:381px;top:826px;width:94px;height:24px;line-height:22px;background:#c0c0c0;text-align:right;font-size:16.25px;font-weight:bold;padding:0 1.25px;">128806869</div><div class="c" style="left:476px;top:826px;width:63px;height:24px;line-height:22px;background:#c0c0c0;text-align:right;font-size:16.25px;font-weight:bold;padding:0 1.25px;">97445</div><div class="c" style="left:540px;top:826px;width:63px;height:24px;line-height:22px;background:#c0c0c0;text-align:right;font-size:16.25px;font-weight:bold;padding:0 1.25px;">308115</div><div class="c" style="left:604px;top:826px;width:73px;height:24px;line-height:22px;background:#c0c0c0;text-align:right;font-size:16.25px;font-weight:bold;padding:0 1.25px;">945393</div><div class="c" style="left:678px;top:826px;width:75px;height:24px;line-height:22px;background:#c0c0c0;text-align:right;font-size:16.25px;font-weight:bold;padding:0 1.25px;">1033810</div>
</body></html>
